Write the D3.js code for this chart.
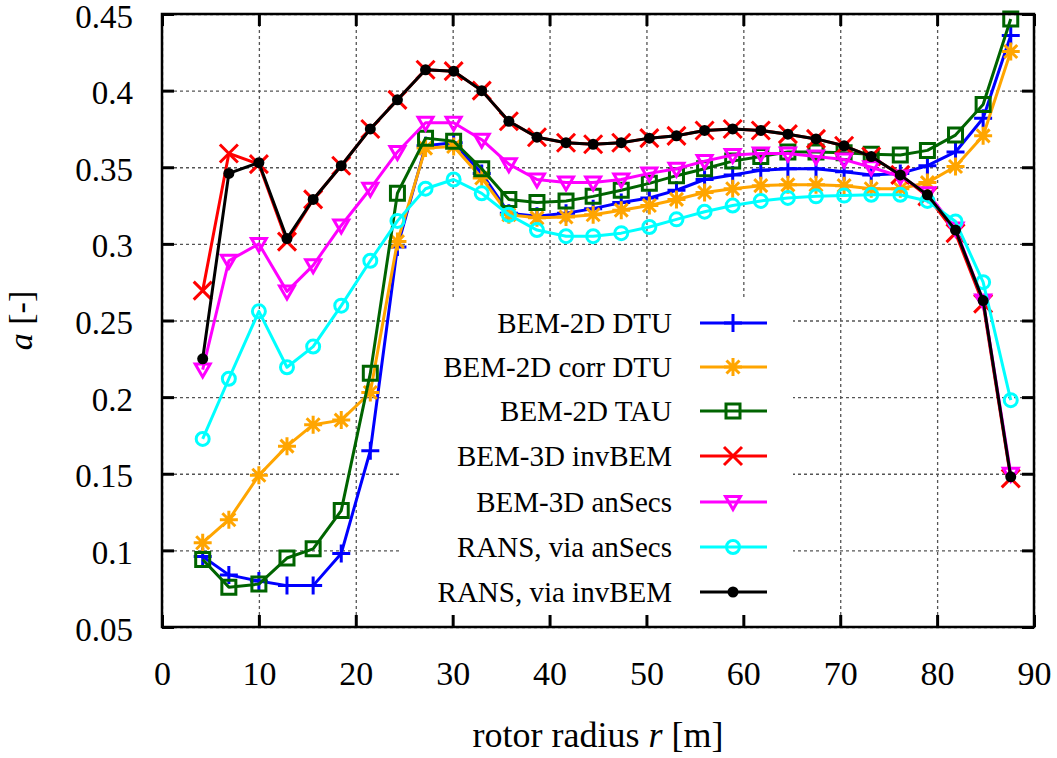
<!DOCTYPE html>
<html>
<head>
<meta charset="utf-8">
<script src="https://cdn.jsdelivr.net/npm/d3@7"></script>
<style>
  html, body { margin: 0; padding: 0; background: #fff; }
  svg { display: block; }
  text { font-family: "Liberation Serif", "Times New Roman", serif; fill: #000; }
</style>
</head>
<body>
<svg id="chart" width="1057" height="758"></svg>
<script>
// ---------------- data ----------------
const radius = [4.2, 6.9, 10.0, 12.9, 15.6, 18.5, 21.5, 24.3, 27.2, 30.1, 33.0, 35.8, 38.7, 41.7, 44.5, 47.4, 50.3, 53.1, 56.0, 58.9, 61.8, 64.6, 67.5, 70.4, 73.2, 76.2, 79.0, 81.9, 84.75, 87.6];

const bem2dDTU = [0.096, 0.084, 0.080, 0.077, 0.077, 0.098, 0.165, 0.298, 0.364, 0.366, 0.346, 0.320, 0.318, 0.320, 0.323, 0.327, 0.330, 0.335, 0.342, 0.345, 0.348, 0.349, 0.349, 0.347, 0.345, 0.346, 0.351, 0.360, 0.382, 0.436];
const bem2dCorrDTU = [0.105, 0.120, 0.149, 0.168, 0.182, 0.185, 0.203, 0.3015, 0.3625, 0.3635, 0.343, 0.319, 0.317, 0.3175, 0.319, 0.322, 0.325, 0.329, 0.3335, 0.336, 0.338, 0.3385, 0.3385, 0.338, 0.336, 0.336, 0.340, 0.3505, 0.3705, 0.4255];
const bem2dTAU = [0.094, 0.076, 0.078, 0.095, 0.101, 0.126, 0.2155, 0.333, 0.369, 0.367, 0.349, 0.329, 0.327, 0.328, 0.331, 0.335, 0.3395, 0.3445, 0.349, 0.354, 0.357, 0.360, 0.360, 0.3595, 0.3585, 0.358, 0.361, 0.371, 0.391, 0.4467];
const bem3dInvBEM = [0.2695, 0.359, 0.352, 0.3015, 0.329, 0.351, 0.375, 0.394, 0.4136, 0.4127, 0.400, 0.380, 0.3696, 0.366, 0.365, 0.366, 0.369, 0.3705, 0.374, 0.375, 0.374, 0.3716, 0.3685, 0.364, 0.357, 0.345, 0.331, 0.307, 0.261, 0.147];
const bem3dAnSecs = [0.218, 0.289, 0.300, 0.269, 0.286, 0.312, 0.336, 0.360, 0.379, 0.379, 0.368, 0.352, 0.342, 0.340, 0.340, 0.342, 0.346, 0.349, 0.354, 0.358, 0.359, 0.359, 0.357, 0.355, 0.350, 0.344, 0.333, 0.310, 0.263, 0.150];
const ransAnSecs = [0.1727, 0.212, 0.256, 0.2195, 0.233, 0.2597, 0.289, 0.315, 0.336, 0.342, 0.333, 0.319, 0.309, 0.305, 0.305, 0.307, 0.311, 0.316, 0.321, 0.325, 0.328, 0.330, 0.331, 0.3315, 0.332, 0.332, 0.328, 0.3146, 0.275, 0.198];
const ransInvBEM = [0.225, 0.346, 0.353, 0.3035, 0.329, 0.351, 0.375, 0.394, 0.4136, 0.4127, 0.400, 0.380, 0.3696, 0.366, 0.365, 0.366, 0.369, 0.3705, 0.374, 0.375, 0.374, 0.3716, 0.3685, 0.364, 0.357, 0.345, 0.332, 0.309, 0.263, 0.148];

const seriesNames = ["BEM-2D DTU", "BEM-2D corr DTU", "BEM-2D TAU", "BEM-3D invBEM", "BEM-3D anSecs", "RANS, via anSecs", "RANS, via invBEM"];
const seriesValues = [bem2dDTU, bem2dCorrDTU, bem2dTAU, bem3dInvBEM, bem3dAnSecs, ransAnSecs, ransInvBEM];
const seriesColors = ["#0000ff", "#ffa500", "#006400", "#ff0000", "#ff00ff", "#00ffff", "#000000"];
const seriesMarkers = ["plus", "asterisk", "square", "times", "triangleDown", "circle", "dot"];

const xTicks = [0, 10, 20, 30, 40, 50, 60, 70, 80, 90];
const yTicks = [0.05, 0.1, 0.15, 0.2, 0.25, 0.3, 0.35, 0.4, 0.45];
const yTickLabels = ["0.05", "0.1", "0.15", "0.2", "0.25", "0.3", "0.35", "0.4", "0.45"];

// ---------------- layout ----------------
const L = 162, R = 1034, T = 14, B = 627;
const svg = d3.select("#chart");
const x = d3.scaleLinear().domain([0, 90]).range([L, R]);
const y = d3.scaleLinear().domain([0.05, 0.45]).range([B, T]);

svg.append("rect").attr("width", 1057).attr("height", 758).attr("fill", "#fff");

// grid
const gridX = svg.append("g").attr("transform", `translate(0,${B})`)
  .call(d3.axisBottom(x).tickValues(xTicks).tickSize(-(B - T)).tickFormat(""));
const gridY = svg.append("g").attr("transform", `translate(${L},0)`)
  .call(d3.axisLeft(y).tickValues(yTicks).tickSize(-(R - L)).tickFormat(""));
[gridX, gridY].forEach(g => {
  g.select(".domain").remove();
  g.selectAll(".tick line").attr("stroke", "#555").attr("stroke-width", 1.3).attr("stroke-dasharray", "3,3");
});

// legend background (opaque key)
svg.append("rect").attr("x", 400).attr("y", 297).attr("width", 393).attr("height", B - 297).attr("fill", "#fff");

// marker path generator
function markerPath(type) {
  switch (type) {
    case "plus": return "M-9,0H9M0,-9V9";
    case "asterisk": return "M-9,0H9M0,-9V9M-6.5,-6.5L6.5,6.5M-6.5,6.5L6.5,-6.5";
    case "times": return "M-9,-9L9,9M-9,9L9,-9";
    case "square": return "M-7,-7H7V7H-7Z";
    case "triangleDown": return "M-7.5,-5.5H7.5L0,7.5Z";
    case "circle": return d3.arc()({innerRadius: 0, outerRadius: 6.5, startAngle: 0, endAngle: 2 * Math.PI});
    case "dot": return d3.arc()({innerRadius: 0, outerRadius: 5.5, startAngle: 0, endAngle: 2 * Math.PI});
  }
}

const line = d3.line().x(d => x(d[0])).y(d => y(d[1]));
const plot = svg.append("g");
seriesValues.forEach((vals, i) => {
  const pts = radius.map((r, j) => [r, vals[j]]);
  const g = plot.append("g");
  g.append("path").attr("d", line(pts)).attr("fill", "none")
    .attr("stroke", seriesColors[i]).attr("stroke-width", 3).attr("stroke-linejoin", "round");
  g.selectAll("path.m").data(pts).join("path").attr("class", "m")
    .attr("transform", d => `translate(${x(d[0])},${y(d[1])})`)
    .attr("d", markerPath(seriesMarkers[i]))
    .attr("fill", seriesMarkers[i] === "dot" ? seriesColors[i] : "none")
    .attr("stroke", seriesMarkers[i] === "dot" ? "none" : seriesColors[i])
    .attr("stroke-width", 3);
});

// legend
const legendRows = [323, 367, 411, 456, 502, 547, 592];
const legend = svg.append("g");
seriesNames.forEach((name, i) => {
  const ly = legendRows[i];
  legend.append("text").attr("x", 672).attr("y", ly + 10).attr("text-anchor", "end")
    .attr("font-size", 29).text(name);
  legend.append("line").attr("x1", 700).attr("x2", 767).attr("y1", ly).attr("y2", ly)
    .attr("stroke", seriesColors[i]).attr("stroke-width", 3);
  legend.append("path").attr("transform", `translate(733,${ly})`).attr("d", markerPath(seriesMarkers[i]))
    .attr("fill", seriesMarkers[i] === "dot" ? seriesColors[i] : "none")
    .attr("stroke", seriesMarkers[i] === "dot" ? "none" : seriesColors[i])
    .attr("stroke-width", 3);
});

// axes with inward ticks
const axLeft = svg.append("g").attr("transform", `translate(${L},0)`)
  .call(d3.axisLeft(y).tickValues(yTicks).tickSize(-12).tickSizeOuter(0).tickPadding(29)
    .tickFormat((d, i) => yTickLabels[i]));
const axRight = svg.append("g").attr("transform", `translate(${R},0)`)
  .call(d3.axisRight(y).tickValues(yTicks).tickSize(-12).tickSizeOuter(0).tickFormat(""));
const axBottom = svg.append("g").attr("transform", `translate(0,${B})`)
  .call(d3.axisBottom(x).tickValues(xTicks).tickSize(-12).tickSizeOuter(0).tickFormat(d3.format("d")));
const axTop = svg.append("g").attr("transform", `translate(0,${T})`)
  .call(d3.axisTop(x).tickValues(xTicks).tickSize(-12).tickSizeOuter(0).tickFormat(""));
[axLeft, axRight, axBottom, axTop].forEach(g => {
  g.select(".domain").remove();
  g.selectAll(".tick line").attr("stroke", "#000").attr("stroke-width", 3);
  g.selectAll(".tick text").attr("font-family", "Liberation Serif").attr("font-size", 33).attr("fill", "#000");
});
axLeft.selectAll(".tick text").attr("dy", null).attr("y", 13);
axBottom.selectAll(".tick text").attr("dy", null).attr("y", 58).attr("font-size", 34);

// frame
svg.append("rect").attr("x", L).attr("y", T).attr("width", R - L).attr("height", B - T)
  .attr("fill", "none").attr("stroke", "#000").attr("stroke-width", 2.5);

// axis titles
const xt = svg.append("text").attr("x", (L + R) / 2).attr("y", 747).attr("text-anchor", "middle").attr("font-size", 36);
xt.append("tspan").text("rotor radius ");
xt.append("tspan").attr("font-style", "italic").text("r");
xt.append("tspan").text(" [m]");

const yt = svg.append("text").attr("transform", `translate(32,${(T + B) / 2}) rotate(-90)`).attr("text-anchor", "middle").attr("font-size", 34);
yt.append("tspan").attr("font-style", "italic").text("a");
yt.append("tspan").text(" [-]");
</script>
</body>
</html>
